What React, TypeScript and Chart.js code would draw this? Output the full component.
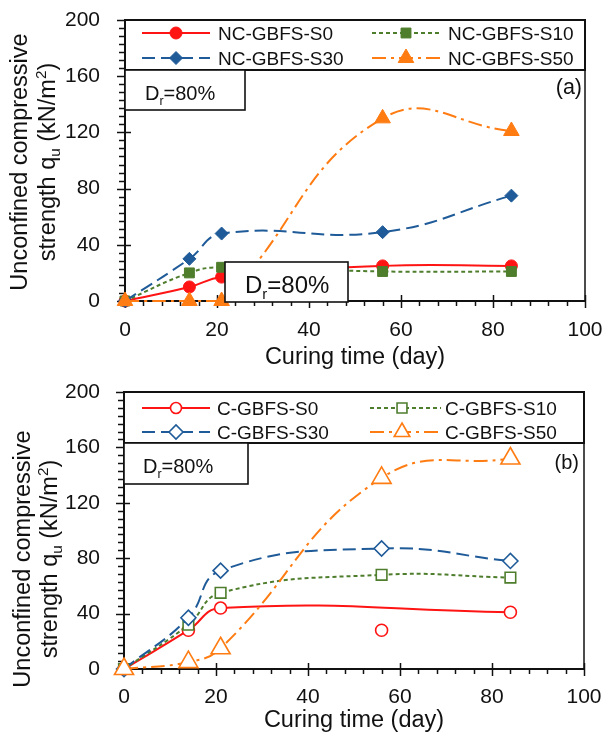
import React, { useEffect, useRef } from 'react';
import { Chart, registerables } from 'chart.js';
import { drawPoint } from 'chart.js/helpers';

Chart.register(...registerables);

const FONT = '"Liberation Sans", Arial, Helvetica, sans-serif';

// ---------------- data ----------------
const curingDays = [0, 14, 21, 56, 84];

// panel (a) – non-cemented
const ncS0 = [0, 10, 17, 25, 25];
const ncS10 = [0, 20, 24, 21, 21];
const ncS30 = [0, 30, 48, 49, 75];
const ncS50 = [0, 0, 0, 130, 121];

// panel (b) – cemented
const cS0Days = [0, 14, 21, 84];
const cS0 = [0, 28, 44, 41];
const cS0ExtraDays = [56];
const cS0Extra = [28];
const cS10 = [0, 32, 55, 68, 66];
const cS30 = [0, 37, 71, 87, 78];
const cS50 = [0, 5, 15, 138, 152];

const ncLabels = ['NC-GBFS-S0', 'NC-GBFS-S10', 'NC-GBFS-S30', 'NC-GBFS-S50'];
const cLabels = ['C-GBFS-S0', 'C-GBFS-S10', 'C-GBFS-S30', 'C-GBFS-S50'];

const xMin = 0;
const xMax = 100;
const xStep = 20;
const xMinorPerMajor = 5;
const yMin = 0;
const yMax = 200;
const yStep = 40;
const yMinorPerMajor = 7;

const xTitleText = 'Curing time (day)';
const yTitleLine1 = 'Unconfined compressive';
const yTitleLine2 = [
  { text: 'strength q', scale: 1, shift: 0 },
  { text: 'u', scale: 0.65, shift: 0.22 },
  { text: ' (kN/m', scale: 1, shift: 0 },
  { text: '2', scale: 0.65, shift: -0.38 },
  { text: ')', scale: 1, shift: 0 },
];
const densityText = [
  { text: 'D', scale: 1, shift: 0 },
  { text: 'r', scale: 0.62, shift: 0.25 },
  { text: '=80%', scale: 1, shift: 0 },
];

// ---------------- styles ----------------
const RED = '#ff1414';
const GREEN = '#4e7d2c';
const BLUE = '#1f5b98';
const ORANGE = '#ff7c12';

const seriesStyles = [
  { color: RED, dash: [] as number[], pointStyle: 'circle' },
  { color: GREEN, dash: [4, 3], pointStyle: 'rect' },
  { color: BLUE, dash: [13, 6], pointStyle: 'rectRot' },
  { color: ORANGE, dash: [14, 5, 3, 5], pointStyle: 'triangle' },
];

const pts = (xs: number[], ys: number[]) => xs.map((x, i) => ({ x, y: ys[i] }));

function makeDataset(label: string, xs: number[], ys: number[], idx: number, filled: boolean, radii: number[], order: number, showLine = true) {
  const s = seriesStyles[idx];
  return {
    label,
    data: pts(xs, ys),
    borderColor: s.color,
    borderWidth: 2,
    borderDash: s.dash,
    backgroundColor: filled ? s.color : '#ffffff',
    pointBackgroundColor: filled ? s.color : '#ffffff',
    pointBorderColor: s.color,
    pointBorderWidth: filled ? 1 : 1.6,
    pointStyle: s.pointStyle,
    pointRadius: radii[idx],
    pointHoverRadius: radii[idx],
    tension: 0.45,
    showLine,
    fill: false,
    clip: false,
    order,
  };
}

const radiiA = [6, 7, 6.5, 9];
const radiiB = [6, 7.5, 7.5, 11];

const datasetsA = [
  makeDataset(ncLabels[0], curingDays, ncS0, 0, true, radiiA, 3),
  makeDataset(ncLabels[1], curingDays, ncS10, 1, true, radiiA, 2),
  makeDataset(ncLabels[2], curingDays, ncS30, 2, true, radiiA, 1),
  makeDataset(ncLabels[3], curingDays, ncS50, 3, true, radiiA, 0),
];

const datasetsB = [
  makeDataset(cLabels[0], cS0Days, cS0, 0, false, radiiB, 3),
  makeDataset(cLabels[0] + ' (56 d)', cS0ExtraDays, cS0Extra, 0, false, radiiB, 3, false),
  makeDataset(cLabels[1], curingDays, cS10, 1, false, radiiB, 2),
  makeDataset(cLabels[2], curingDays, cS30, 2, false, radiiB, 1),
  makeDataset(cLabels[3], curingDays, cS50, 3, false, radiiB, 0),
];

type Seg = { text: string; scale: number; shift: number };

function richWidth(ctx: CanvasRenderingContext2D, segs: Seg[], size: number) {
  return segs.map((s) => {
    ctx.font = `${size * s.scale}px ${FONT}`;
    return ctx.measureText(s.text).width;
  });
}

function drawRich(ctx: CanvasRenderingContext2D, segs: Seg[], size: number, x: number, baseline: number, align: 'left' | 'center') {
  const widths = richWidth(ctx, segs, size);
  const total = widths.reduce((a, b) => a + b, 0);
  let cx = align === 'center' ? x - total / 2 : x;
  ctx.textAlign = 'left';
  ctx.textBaseline = 'alphabetic';
  segs.forEach((s, i) => {
    ctx.font = `${size * s.scale}px ${FONT}`;
    ctx.fillText(s.text, cx, baseline + s.shift * size);
    cx += widths[i];
  });
}

function makeDecorPlugin(spec: any) {
  return {
    id: 'panelDecor',
    beforeDatasetsDraw(chart: any) {
      const { ctx, chartArea: a, scales } = chart;
      ctx.save();
      ctx.setLineDash([]);
      ctx.strokeStyle = '#111';
      ctx.lineWidth = 1.5;
      ctx.strokeRect(a.left, a.top, a.right - a.left, a.bottom - a.top);
      ctx.lineWidth = 2;
      ctx.beginPath();
      ctx.moveTo(a.left, a.top);
      ctx.lineTo(a.left, a.bottom);
      ctx.lineTo(a.right, a.bottom);
      ctx.stroke();
      ctx.lineWidth = 1.5;
      const xs = scales.x;
      const xMinor = xStep / xMinorPerMajor;
      const nx = Math.round((xMax - xMin) / xMinor);
      for (let i = 0; i <= nx; i++) {
        const v = xMin + i * xMinor;
        const px = Math.round(xs.getPixelForValue(v)) + 0.5;
        const major = i % xMinorPerMajor === 0;
        ctx.beginPath();
        ctx.moveTo(px, major ? a.bottom - 6 : a.bottom);
        ctx.lineTo(px, a.bottom + (major ? 7 : 5));
        ctx.stroke();
      }
      const ys = scales.y;
      const yMinor = yStep / yMinorPerMajor;
      const ny = Math.round((yMax - yMin) / yMinor);
      for (let i = 0; i <= ny; i++) {
        const v = yMin + i * yMinor;
        const py = Math.round(ys.getPixelForValue(v)) + 0.5;
        const major = i % yMinorPerMajor === 0;
        ctx.beginPath();
        ctx.moveTo(a.left - (major ? 8 : 6), py);
        ctx.lineTo(a.left + (major ? 6 : 0), py);
        ctx.stroke();
      }
      ctx.restore();
    },
    afterDatasetsDraw(chart: any) {
      const { ctx, chartArea: a } = chart;
      ctx.save();
      ctx.setLineDash([]);
      // legend box
      const lg = spec.legend;
      ctx.fillStyle = '#ffffff';
      ctx.fillRect(a.left, a.top, a.right - a.left, lg.height);
      ctx.strokeStyle = '#111';
      ctx.lineWidth = 2;
      ctx.strokeRect(a.left, a.top, a.right - a.left, lg.height);
      spec.labels.forEach((label: string, i: number) => {
        const col = i % 2 === 0 ? lg.col1 : lg.col2;
        const row = lg.rows[Math.floor(i / 2)];
        const y = a.top + row;
        const st = seriesStyles[i];
        ctx.strokeStyle = st.color;
        ctx.lineWidth = 2;
        ctx.setLineDash(st.dash);
        ctx.beginPath();
        ctx.moveTo(col.x0, y);
        ctx.lineTo(col.x1, y);
        ctx.stroke();
        ctx.setLineDash([]);
        ctx.fillStyle = spec.filled ? st.color : '#ffffff';
        ctx.strokeStyle = st.color;
        ctx.lineWidth = spec.filled ? 1 : 1.6;
        drawPoint(ctx, { pointStyle: st.pointStyle, radius: spec.legendRadii[i], rotation: 0, borderWidth: ctx.lineWidth } as any, col.m, y);
        ctx.fillStyle = '#111';
        ctx.font = `${lg.font}px ${FONT}`;
        ctx.textAlign = 'left';
        ctx.textBaseline = 'alphabetic';
        ctx.fillText(label, col.t, y + lg.font * 0.36);
      });
      // density boxes
      spec.drBoxes.forEach((b: any) => {
        ctx.fillStyle = '#ffffff';
        ctx.fillRect(b.x, b.y, b.w, b.h);
        ctx.strokeStyle = '#111';
        ctx.lineWidth = 1.6;
        ctx.strokeRect(b.x, b.y, b.w, b.h);
        ctx.fillStyle = '#111';
        drawRich(ctx, densityText, b.size, b.tx, b.base, 'left');
      });
      // panel tag
      ctx.fillStyle = '#111';
      ctx.font = `${spec.tag.size}px ${FONT}`;
      ctx.textAlign = 'right';
      ctx.textBaseline = 'alphabetic';
      ctx.fillText(spec.tag.text, spec.tag.right, spec.tag.base);
      ctx.restore();
    },
    afterDraw(chart: any) {
      const { ctx, chartArea: a } = chart;
      ctx.save();
      ctx.fillStyle = '#111';
      // x title
      ctx.font = `${spec.xTitle.size}px ${FONT}`;
      ctx.textAlign = 'center';
      ctx.textBaseline = 'alphabetic';
      ctx.fillText(xTitleText, (a.left + a.right) / 2, spec.xTitle.base);
      // y title (rotated)
      const yt = spec.yTitle;
      ctx.save();
      ctx.translate(yt.b1, yt.cy);
      ctx.rotate(-Math.PI / 2);
      ctx.font = `${yt.size}px ${FONT}`;
      ctx.textAlign = 'center';
      ctx.fillText(yTitleLine1, 0, 0);
      ctx.restore();
      ctx.save();
      ctx.translate(yt.b2, yt.cy);
      ctx.rotate(-Math.PI / 2);
      drawRich(ctx, yTitleLine2, yt.size, 0, 0, 'center');
      ctx.restore();
      ctx.restore();
    },
  };
}

function buildConfig(spec: any): any {
  return {
    type: 'line',
    data: { datasets: spec.datasets },
    options: {
      responsive: false,
      maintainAspectRatio: false,
      animation: false,
      devicePixelRatio: 1,
      events: [],
      layout: { padding: { left: 0, top: spec.pad.top, right: spec.pad.right, bottom: 0 } },
      plugins: {
        legend: { display: false },
        title: { display: false },
        tooltip: { enabled: false },
      },
      scales: {
        x: {
          type: 'linear',
          min: xMin,
          max: xMax,
          grid: { display: false, drawTicks: false },
          border: { display: false },
          ticks: {
            stepSize: xStep,
            padding: spec.xTickPad,
            maxRotation: 0,
            autoSkip: false,
            color: '#111',
            font: { size: 21, family: FONT },
          },
          afterFit: (s: any) => {
            s.height = spec.xAxisHeight;
            s.paddingLeft = 0;
            s.paddingRight = 0;
          },
        },
        y: {
          type: 'linear',
          min: yMin,
          max: yMax,
          grid: { display: false, drawTicks: false },
          border: { display: false },
          ticks: {
            stepSize: yStep,
            padding: spec.yTickPad,
            color: '#111',
            font: { size: 21, family: FONT },
          },
          afterFit: (s: any) => {
            s.width = spec.yAxisWidth;
            s.paddingTop = 0;
            s.paddingBottom = 0;
          },
        },
      },
    },
    plugins: [makeDecorPlugin(spec)],
  };
}

const panelA = {
  height: 370,
  pad: { top: 20, right: 25 },
  yAxisWidth: 125,
  xAxisHeight: 69,
  xTickPad: 17,
  yTickPad: 25,
  datasets: datasetsA,
  labels: ncLabels,
  filled: true,
  legendRadii: radiiA,
  legend: {
    height: 50,
    rows: [13, 38],
    font: 19,
    col1: { x0: 142, x1: 210, m: 176, t: 218 },
    col2: { x0: 372, x1: 442, m: 406, t: 448 },
  },
  tag: { text: '(a)', right: 582, base: 93.5, size: 21.5 },
  drBoxes: [
    { x: 125, y: 70, w: 120, h: 40, tx: 145, base: 100, size: 20 },
    { x: 225, y: 262, w: 123, h: 40, tx: 245, base: 293, size: 24 },
  ],
  yTitle: { b1: 27, b2: 55, cy: 162, size: 23.5 },
  xTitle: { base: 364, size: 23.5 },
};

const panelB = {
  height: 367,
  pad: { top: 22, right: 26 },
  yAxisWidth: 124,
  xAxisHeight: 68,
  xTickPad: 16,
  yTickPad: 24,
  datasets: datasetsB,
  labels: cLabels,
  filled: false,
  legendRadii: radiiB.map((r, i) => (i === 3 ? 9 : r - 0.5)),
  legend: {
    height: 51,
    rows: [16, 40],
    font: 19,
    col1: { x0: 142, x1: 210, m: 176, t: 217 },
    col2: { x0: 370, x1: 441, m: 402, t: 445 },
  },
  tag: { text: '(b)', right: 579, base: 98.5, size: 20 },
  drBoxes: [{ x: 124, y: 73, w: 124, h: 41, tx: 143, base: 103.3, size: 20 }],
  yTitle: { b1: 30, b2: 57, cy: 189, size: 23.5 },
  xTitle: { base: 357, size: 23.5 },
};

function Panel({ spec }: { spec: any }) {
  const ref = useRef<HTMLCanvasElement | null>(null);
  useEffect(() => {
    if (!ref.current) return;
    const chart = new Chart(ref.current, buildConfig(spec));
    return () => chart.destroy();
  }, [spec]);
  return (
    <canvas
      ref={ref}
      width={610}
      height={spec.height}
      style={{ display: 'block', width: 610, height: spec.height }}
    />
  );
}

export default function App() {
  return (
    <div style={{ position: 'absolute', left: 0, top: 0, width: 610, height: 737, background: '#ffffff', overflow: 'hidden' }}>
      <Panel spec={panelA} />
      <Panel spec={panelB} />
    </div>
  );
}
